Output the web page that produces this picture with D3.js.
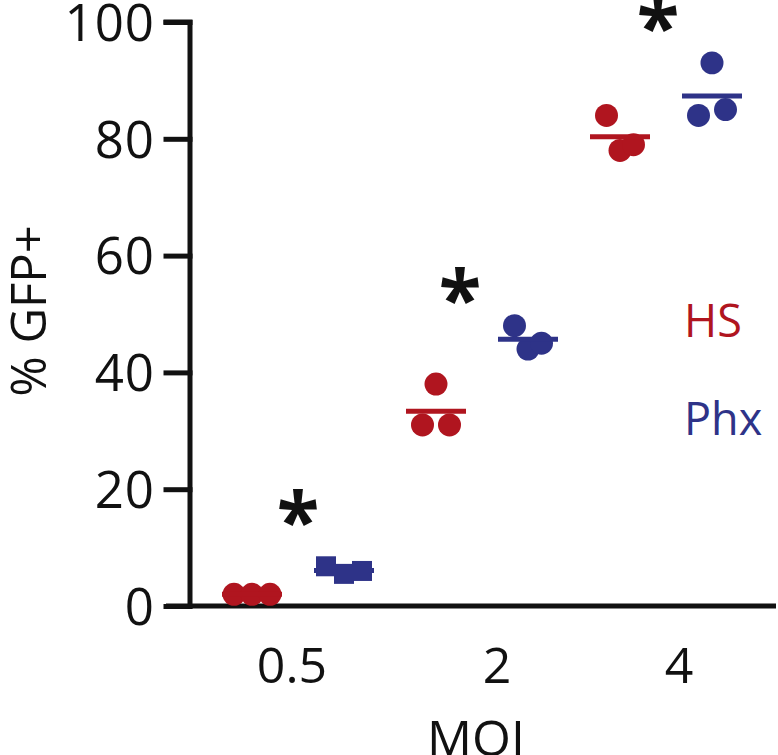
<!DOCTYPE html>
<html>
<head>
<meta charset="utf-8">
<script src="https://cdn.jsdelivr.net/npm/d3@7"></script>
<style>
  body { margin: 0; background: #fff; }
  svg text { font-family: "Open Sans", "Noto Sans", sans-serif; }
</style>
</head>
<body>
<div class="chart"></div>
<script>
// data (left-to-right order of dots in each cluster)
const mois = ['0.5', '2', '4']
const series = ['HS', 'Phx']
const seriesColors = ['#b0151f', '#2e3388']
const hsValues = [[2, 2, 2], [31, 38, 31], [84, 78, 79]]
const phxValues = [[6.8, 5.5, 6.0], [48, 44, 45], [84, 93, 85]]
const phxShapes = ['square', 'circle', 'circle']
const stars = ['*', '*', '*']
const starLevels = [16.5, 54.5, 101]   // height of the star, in % GFP+
const yTicks = [0, 20, 40, 60, 80, 100]

const width = 778
const height = 755
const margin = {top: 22, right: 2, bottom: 149, left: 190}

// small nudges so labels sit like in the original figure
const labelNudge = [-6, 15, 13]
const starNudge = [0, -22, -8]

let svg = d3.select('.chart').append('svg')
  .attr('width', width)
  .attr('height', height)

let y = d3.scaleLinear()
  .domain([0, 100])
  .range([height - margin.bottom, margin.top])

let x = d3.scaleBand()
  .domain(mois)
  .range([206, 758])
  .paddingInner(0)

let xSeries = d3.scalePoint()
  .domain(series)
  .range([-46, 46])

let jitter = d3.scalePoint()
  .domain([0, 1, 2])
  .range([-15, 15])

const groupCenter = m => x(m) + x.bandwidth() / 2

// axes
let yAxis = svg.append('g')
  .attr('transform', 'translate(' + margin.left + ',0)')
  .call(d3.axisLeft(y).tickValues(yTicks).tickSize(24).tickPadding(11))

yAxis.select('.domain')
  .attr('d', 'M-24,' + y(100) + 'H0V' + y(0))

yAxis.selectAll('path, line')
  .attr('stroke', '#111')
  .attr('stroke-width', 5)
  .attr('stroke-linecap', 'square')

yAxis.selectAll('text')
  .attr('font-size', 51)
  .attr('fill', '#111')
  .attr('dy', '0.36em')
  .attr('letter-spacing', 1)

svg.append('line')
  .attr('x1', margin.left - 24)
  .attr('x2', width - margin.right)
  .attr('y1', y(0))
  .attr('y2', y(0))
  .attr('stroke', '#111')
  .attr('stroke-width', 5)

svg.append('g')
  .selectAll('text')
  .data(mois)
  .enter()
  .append('text')
  .attr('x', (d, i) => groupCenter(d) + labelNudge[i])
  .attr('y', y(0) + 77)
  .attr('text-anchor', 'middle')
  .attr('font-size', 50)
  .attr('fill', '#111')
  .text(d => d)

svg.append('text')
  .attr('x', 476)
  .attr('y', 756)
  .attr('text-anchor', 'middle')
  .attr('font-size', 50)
  .attr('fill', '#111')
  .text('MOI')

svg.append('text')
  .attr('transform', 'translate(46,' + 311 + ') rotate(-90)')
  .attr('text-anchor', 'middle')
  .attr('font-size', 49)
  .attr('fill', '#111')
  .text('% GFP+')

// points
const allSeries = [hsValues, phxValues]
let marks = svg.append('g')

allSeries.forEach((vals, si) => {
  let color = seriesColors[si]
  vals.forEach((group, gi) => {
    let cx = groupCenter(mois[gi]) + xSeries(series[si])
    let shape = si === 1 ? phxShapes[gi] : 'circle'
    let spread = gi === 0 ? 1.2 : 0.9

    marks.selectAll(null)
      .data(group)
      .enter()
      .append('path')
      .attr('d', d3.symbol().type(shape === 'square' ? d3.symbolSquare : d3.symbolCircle).size(shape === 'square' ? 400 : 415))
      .attr('transform', (d, i) => 'translate(' + (cx + jitter(i) * spread) + ',' + y(d) + ')')
      .attr('fill', color)

    let mean = d3.mean(group)
    marks.append('line')
      .attr('x1', cx - 30)
      .attr('x2', cx + 30)
      .attr('y1', y(mean))
      .attr('y2', y(mean))
      .attr('stroke', color)
      .attr('stroke-width', 5)
  })
})

// significance stars (the glyph ink sits about half an em above the baseline)
svg.append('g')
  .selectAll('text')
  .data(stars)
  .enter()
  .append('text')
  .attr('x', (d, i) => groupCenter(mois[i]) + starNudge[i])
  .attr('y', (d, i) => y(starLevels[i]))
  .attr('dy', '0.5em')
  .attr('text-anchor', 'middle')
  .attr('font-size', 78)
  .attr('font-weight', 'bold')
  .attr('fill', '#111')
  .text(d => d)

// legend
svg.append('g')
  .selectAll('text')
  .data(series)
  .enter()
  .append('text')
  .attr('x', 684)
  .attr('y', (d, i) => 337 + i * 98)
  .attr('font-size', 45)
  .attr('fill', (d, i) => seriesColors[i])
  .text(d => d)
</script>
</body>
</html>
